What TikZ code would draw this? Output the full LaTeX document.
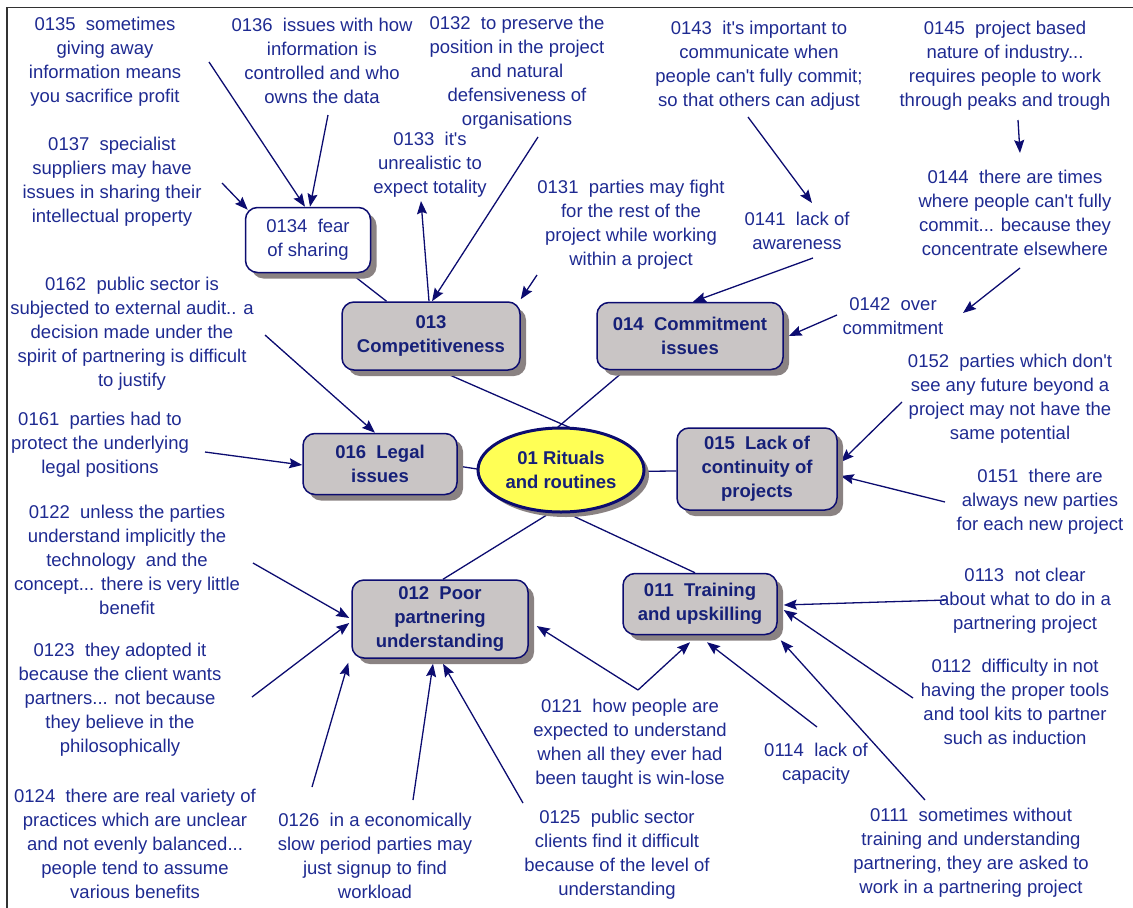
\documentclass[tikz,border=0pt]{standalone}
\usepackage{fontspec}
\setmainfont{Liberation Sans}
\usetikzlibrary{arrows.meta,shadows,calc,backgrounds,shapes.geometric}
\definecolor{inkblue}{RGB}{30,42,145}
\definecolor{boldink}{RGB}{22,32,120}
\definecolor{linenavy}{RGB}{12,12,112}
\definecolor{boxgray}{RGB}{201,197,197}
\definecolor{shadowgray}{RGB}{138,130,130}
\definecolor{rootyellow}{RGB}{255,255,85}
\definecolor{framegray}{RGB}{50,50,50}
\newcommand{\apos}{\textquotesingle}

\begin{document}
\begin{tikzpicture}[x=1pt,y=-1pt,
  leaf/.style={align=center, text=inkblue, font=\fontsize{18.5}{24}\selectfont, inner sep=1pt},
  topic/.style={draw=linenavy, line width=1.5pt, fill=boxgray, rounded corners=12pt,
    align=center, text=boldink, font=\fontsize{18.5}{24}\selectfont\bfseries, inner sep=0pt,
    general shadow={fill=shadowgray, shadow xshift=6pt, shadow yshift=-6pt}},
  subtopic/.style={topic, fill=white, text=inkblue, font=\fontsize{18.5}{24}\selectfont},
  root/.style={ellipse, draw=linenavy, line width=3pt, fill=rootyellow, align=center,
    text=boldink, font=\fontsize{18.5}{24}\selectfont\bfseries, inner sep=0pt,
    minimum width=166pt, minimum height=84pt,
    general shadow={fill=shadowgray, shadow xshift=5pt, shadow yshift=-5pt}},
  link/.style={draw=linenavy, line width=1.3pt},
  arr/.style={link, -{Stealth[length=13pt,width=10pt,inset=2pt]}},
]
\useasboundingbox (0,0) rectangle (1133,908);

% outer frame
\draw[framegray, line width=1.2pt] (7,908) -- (7,7.5) -- (1133,7.5);

% central topic and its branches
\node[root] (root) at (561,470) {01 Rituals\\and routines};
\node[topic, minimum width=178pt, minimum height=68pt] (c013) at (431,336) {013\\Competitiveness};
\node[topic, minimum width=186pt, minimum height=67pt] (c014) at (690,336) {014~~Commitment\\issues};
\node[topic, minimum width=154pt, minimum height=61pt] (c016) at (380,464) {016~~Legal\\issues};
\node[topic, minimum width=160pt, minimum height=82pt] (c015) at (757,469) {015~~Lack of\\continuity of\\projects};
\node[topic, minimum width=176pt, minimum height=78pt] (c012) at (440,619) {012~~Poor\\partnering\\understanding};
\node[topic, minimum width=154pt, minimum height=61pt] (c011) at (700,604) {011~~Training\\and upskilling};
\node[subtopic, minimum width=125pt, minimum height=65pt] (c0134) at (308,240) {0134~~fear\\of sharing};

% statements
\node[leaf] (t0135) at (105,62) {0135~~sometimes\\giving away\\information means\\you sacrifice profit};
\node[leaf] (t0136) at (322,61) {0136~~issues with how\\information is\\controlled and who\\owns the data};
\node[leaf] (t0132) at (517,73) {0132~~to preserve the\\position in the project\\and natural\\defensiveness of\\organisations};
\node[leaf] (t0133) at (430,165) {0133~~it\apos s\\unrealistic to\\expect totality};
\node[leaf] (t0137) at (112,182) {0137~~specialist\\suppliers may have\\issues in sharing their\\intellectual property};
\node[leaf] (t0131) at (631,225) {0131~~parties may fight\\for the rest of the\\project while working\\within a project};
\node[leaf] (t0143) at (759,66) {0143~~it\apos s important to\\communicate when\\people can\apos t fully commit;\\so that others can adjust};
\node[leaf] (t0141) at (797,231) {0141~~lack of\\awareness};
\node[leaf] (t0145) at (1005,66) {0145~~project based\\nature of industry...\\requires people to work\\through peaks and trough};
\node[leaf] (t0144) at (1015,213) {0144~~there are times\\where people can\apos t fully\\commit... because they\\concentrate elsewhere};
\node[leaf] (t0142) at (893,316) {0142~~over\\commitment};
\node[leaf] (t0152) at (1010,399) {0152~~parties which don\apos t\\see any future beyond a\\project may not have the\\same potential};
\node[leaf] (t0151) at (1040,502) {0151~~there are\\always new parties\\for each new project};
\node[leaf] (t0162) at (132,334) {0162~~public sector is\\subjected to external audit.. a\\decision made under the\\spirit of partnering is difficult\\to justify};
\node[leaf] (t0161) at (100,445) {0161~~parties had to\\protect the underlying\\legal positions};
\node[leaf] (t0122) at (127,560) {0122~~unless the parties\\understand implicitly the\\technology~~and the\\concept... there is very little\\benefit};
\node[leaf] (t0123) at (120,700) {0123~~they adopted it\\because the client wants\\partners... not because\\they believe in the\\philosophically};
\node[leaf] (t0124) at (135,844) {0124~~there are real variety of\\practices which are unclear\\and not evenly balanced...\\people tend to assume\\various benefits};
\node[leaf] (t0126) at (375,856) {0126~~in a economically\\slow period parties may\\just signup to find\\workload};
\node[leaf] (t0125) at (617,855) {0125~~public sector\\clients find it difficult\\because of the level of\\understanding};
\node[leaf] (t0121) at (630,744) {0121~~how people are\\expected to understand\\when all they ever had\\been taught is win-lose};
\node[leaf] (t0114) at (816,764) {0114~~lack of\\capacity};
\node[leaf] (t0113) at (1025,601) {0113~~not clear\\about what to do in a\\partnering project};
\node[leaf] (t0112) at (1015,702) {0112~~difficulty in not\\having the proper tools\\and tool kits to partner\\such as induction};
\node[leaf] (t0111) at (971,853) {0111~~sometimes without\\training and understanding\\partnering, they are asked to\\work in a partnering project};

% free ends of the arrows beside the statements
\coordinate (s0135) at (209,62);
\coordinate (s0136) at (328,115);
\coordinate (s0137) at (222,183);
\coordinate (s0132) at (538,137);
\coordinate (e0133) at (421,201);
\coordinate (s0131) at (537,275);
\coordinate (s0143) at (748,117);
\coordinate (e0141) at (812,203);
\coordinate (s0141) at (813,258);
\coordinate (s0145) at (1018,120);
\coordinate (e0144) at (1020,153);
\coordinate (s0144) at (1020,268);
\coordinate (e0142) at (963,313);
\coordinate (s0142) at (837,315);
\coordinate (s0152) at (902,402);
\coordinate (s0151) at (945,502);
\coordinate (s0162) at (265,335);
\coordinate (s0161) at (205,452);
\coordinate (s0122) at (253,563);
\coordinate (s0123) at (252,697);
\coordinate (s0124) at (312,787);
\coordinate (s0126) at (413,800);
\coordinate (s0125) at (523,803);
\coordinate (s0121) at (638,690);
\coordinate (s0114) at (817,727);
\coordinate (s0113) at (947,600);
\coordinate (s0112) at (913,698);
\coordinate (s0111) at (925,800);

\begin{scope}[on background layer]
  % branches of the central topic
  \draw[link] ($(c013.south)+(9,0)$) -- ($(root.center)+(19,-38)$);
  \draw[link] ($(c014.south)+(-65,0)$) -- ($(root.center)+(-16,-32)$);
  \draw[link] ($(c016.east)+(0,2)$) -- ($(root.center)+(0,12)$);
  \draw[link] ($(c015.west)+(0,2)$) -- ($(root.center)+(0,2)$);
  \draw[link] ($(c012.north)+(3,0)$) -- ($(root.center)+(10,30)$);
  \draw[link] ($(c011.north)+(-5,0)$) -- ($(root.center)+(-5,38)$);
  \draw[link] (c0134) -- (c013);

  % statements pointing at their topics
  \draw[arr] (s0135) -- ($(c0134.north)+(-3,0)$);
  \draw[arr] (s0136) -- ($(c0134.north)+(2,0)$);
  \draw[arr] (s0137) -- ($(c0134.north west)+(3,3)$);
  \draw[arr] (s0132) -- ($(c013.north)+(1,0)$);
  \draw[arr] ($(c013.north)+(-2,0)$) -- (e0133);
  \draw[arr] (s0131) -- ($(c013.north east)+(0,-2)$);
  \draw[arr] (s0143) -- (e0141);
  \draw[arr] (s0141) -- ($(c014.north)+(3,0)$);
  \draw[arr] (s0145) -- (e0144);
  \draw[arr] (s0144) -- (e0142);
  \draw[arr] (s0142) -- ($(c014.east)+(5,0)$);
  \draw[arr] (s0152) -- ($(c015.east)+(3,-7)$);
  \draw[arr] (s0151) -- ($(c015.east)+(3,7)$);
  \draw[arr] (s0162) -- ($(c016.north)+(-5,0)$);
  \draw[arr] (s0161) -- ($(c016.west)+(0,1)$);
  \draw[arr] (s0122) -- ($(c012.west)+(-2,-1)$);
  \draw[arr] (s0123) -- ($(c012.west)+(-2,4)$);
  \draw[arr] (s0124) -- ($(c012.south west)+(-3,4)$);
  \draw[arr] (s0126) -- ($(c012.south)+(-7,5)$);
  \draw[arr] (s0125) -- ($(c012.south)+(3,5)$);
  \draw[arr] (s0121) -- ($(c012.east)+(8,7)$);
  \draw[arr] (s0121) -- ($(c011.south)+(-10,7)$);
  \draw[arr] (s0114) -- ($(c011.south)+(7,7)$);
  \draw[arr] (s0113) -- ($(c011.east)+(6,1)$);
  \draw[arr] (s0112) -- ($(c011.east)+(6,6)$);
  \draw[arr] (s0111) -- ($(c011.south east)+(3,5)$);
\end{scope}
\end{tikzpicture}
\end{document}
